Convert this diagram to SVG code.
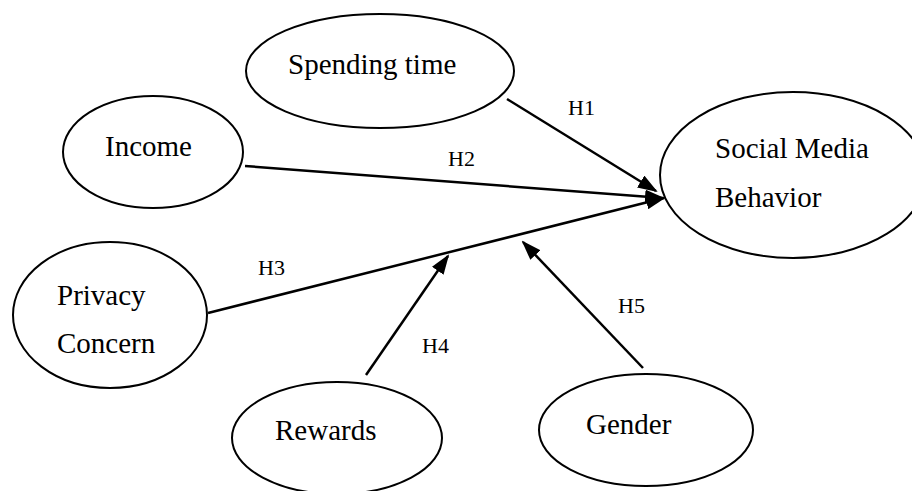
<svg xmlns="http://www.w3.org/2000/svg" width="912" height="491" viewBox="0 0 912 491">
<defs>
<style>
.node ellipse{fill:#fff;stroke:#000;stroke-width:2}
.node text{font-family:"Liberation Serif","Times New Roman",serif;font-size:29px;fill:#000}
.lbl{font-family:"Liberation Serif","Times New Roman",serif;font-size:22px;fill:#000}
.edge{stroke:#000;stroke-width:2.5;fill:none;marker-end:url(#ah)}
</style>
<marker id="ah" markerWidth="20" markerHeight="14" refX="18" refY="7" orient="auto" markerUnits="userSpaceOnUse">
<path d="M0,0 L20,7 L0,14 Z" fill="#000"/>
</marker>
</defs>
<rect width="912" height="491" fill="#fff"/>
<g id="connectors">
<line class="edge" x1="507" y1="99" x2="656" y2="191"/>
<line class="edge" x1="245" y1="166" x2="663" y2="198"/>
<line class="edge" x1="208" y1="313" x2="664" y2="198"/>
<line class="edge" x1="366" y1="375" x2="448" y2="256"/>
<line class="edge" x1="643" y1="368" x2="523" y2="242"/>
<text class="lbl" x="568" y="115">H1</text>
<text class="lbl" x="448" y="166">H2</text>
<text class="lbl" x="258" y="275">H3</text>
<text class="lbl" x="422" y="353">H4</text>
<text class="lbl" x="618" y="313">H5</text>
</g>
<g id="spending" class="node"><ellipse cx="380" cy="71" rx="134" ry="57"/><text x="288" y="74">Spending time</text></g>
<g id="income" class="node"><ellipse cx="153" cy="152" rx="90" ry="56"/><text x="105" y="156">Income</text></g>
<g id="smb" class="node"><ellipse cx="793" cy="175" rx="133" ry="83"/><text x="715" y="158">Social Media</text><text x="715" y="207">Behavior</text></g>
<g id="privacy" class="node"><ellipse cx="110" cy="315" rx="97" ry="73"/><text x="57" y="305">Privacy</text><text x="57" y="353">Concern</text></g>
<g id="rewards" class="node"><ellipse cx="337" cy="438" rx="105" ry="56"/><text x="275" y="440">Rewards</text></g>
<g id="gender" class="node"><ellipse cx="646" cy="430" rx="107" ry="56"/><text x="586" y="434">Gender</text></g>
</svg>
